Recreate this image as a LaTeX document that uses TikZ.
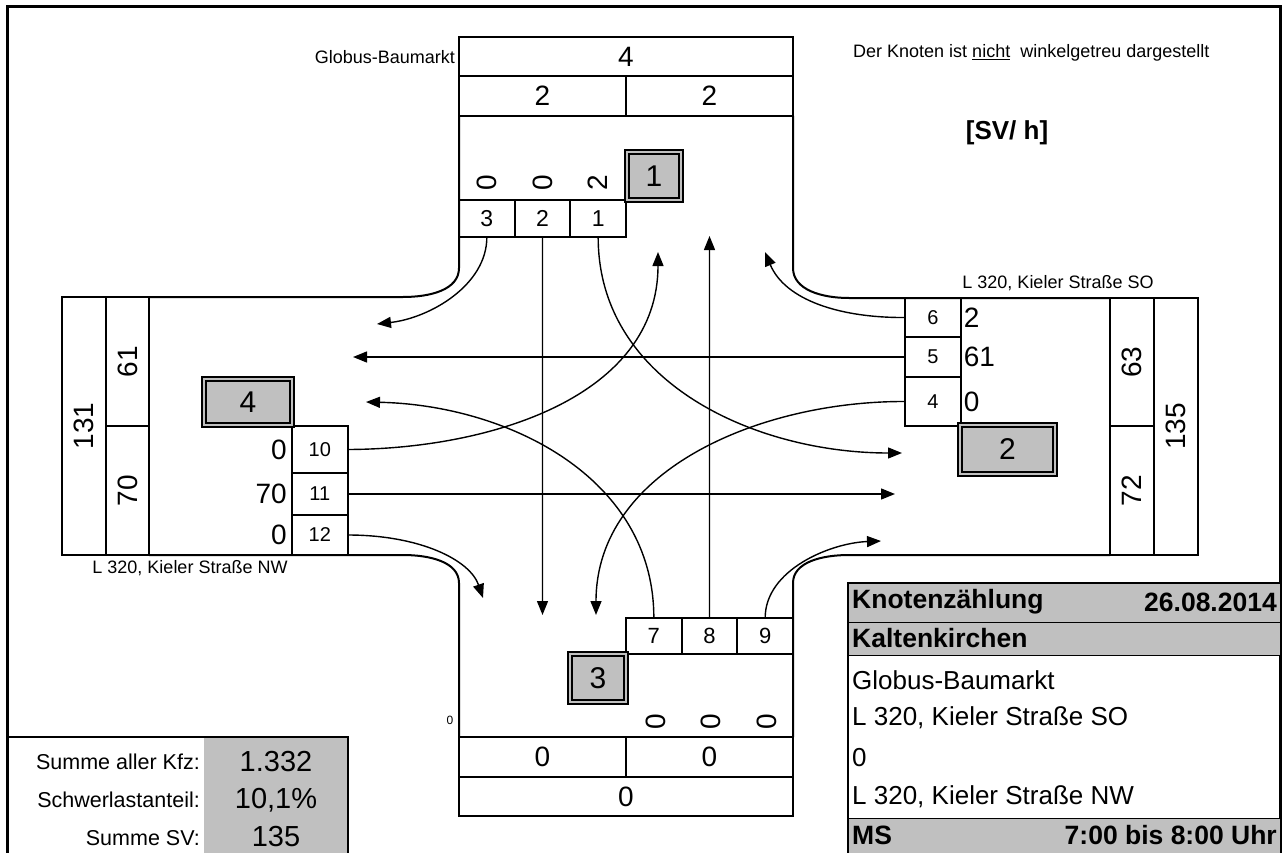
\documentclass[tikz,border=0pt]{standalone}
\usepackage{fontspec}
\setmainfont{Liberation Sans}
\usetikzlibrary{arrows.meta, positioning}
\definecolor{siggrey}{RGB}{192,192,192}
\newcommand{\pxfont}[1]{\fontsize{#1}{#1}\selectfont}
\tikzstyle{cellbox} = [draw, line width=2pt, inner sep=0pt, outer sep=0pt, font=\pxfont{28}]
\tikzstyle{lanecell} = [cellbox, minimum width=55.67pt, font=\pxfont{20}]
\tikzstyle{sig} = [draw, double=siggrey, double distance=2.5pt, line width=1.3pt,
  fill=siggrey, inner sep=0pt, font=\pxfont{30}]
\tikzstyle{flow} = [line width=1.4pt, -{Triangle[length=14pt, width=11pt]}]
\tikzstyle{kerb} = [line width=2pt]
\tikzstyle{lbl} = [inner sep=0pt, font=\pxfont{18}]
\tikzstyle{val} = [inner sep=0pt, font=\pxfont{28}]
\tikzstyle{tabtxt} = [inner sep=0pt, font=\pxfont{26}]

\begin{document}
\begin{tikzpicture}[x=1pt, y=-1pt]
    \useasboundingbox (0,0) rectangle (1284,853);
    \draw[line width=3pt] (7,853) -- (7,7) -- (1280,7) -- (1280,853);

    % road edges
    \draw[kerb] (459,116) -- (459,268) .. controls (459,290) and (430,297) .. (403,297) -- (149,297);
    \draw[kerb] (793,116) -- (793,268) .. controls (793,290) and (822,298) .. (849,298) -- (1110,298);
    \draw[kerb] (149,555) -- (403,555) .. controls (430,555) and (459,562) .. (459,583) -- (459,737);
    \draw[kerb] (1110,555) -- (849,555) .. controls (822,555) and (793,562) .. (793,583) -- (793,737);

    % north arm
    \node[lbl, anchor=east] (nname) at (455,57) {Globus-Baumarkt};
    \node[cellbox, minimum width=334pt, minimum height=39pt] (nsum) at (626,56.5) {4};
    \node[cellbox, minimum width=167pt, minimum height=40pt] (nexit) at (542.5,96) {2};
    \node[cellbox, minimum width=167pt, minimum height=40pt] (nentry) at (709.5,96) {2};
    \node[lanecell, minimum height=37pt, anchor=west, font=\pxfont{23}] (c3) at (459,218.5) {3};
    \node[lanecell, minimum height=37pt, right=0pt of c3, font=\pxfont{23}] (c2) {2};
    \node[lanecell, minimum height=37pt, right=0pt of c2, font=\pxfont{23}] (c1) {1};
    \node[val, rotate=90] (v3) at (487,183) {0};
    \node[val, rotate=90] (v2) at (542.5,183) {0};
    \node[val, rotate=90] (v1) at (598,183) {2};
    \node[sig, minimum width=54pt, minimum height=48pt] (s1) at (654,176) {1};

    % west arm
    \node[cellbox, rotate=90, minimum width=258pt, minimum height=44pt] (wsum) at (84,426) {131};
    \node[cellbox, rotate=90, minimum width=129pt, minimum height=43pt] (wexit) at (127.5,361.5) {61};
    \node[cellbox, rotate=90, minimum width=129pt, minimum height=43pt] (wentry) at (127.5,490.5) {70};
    \node[lanecell, minimum height=47pt, anchor=north west] (c10) at (292,426) {10};
    \node[lanecell, minimum height=42pt, below=0pt of c10] (c11) {11};
    \node[lanecell, minimum height=40pt, below=0pt of c11] (c12) {12};
    \node[val, left=5pt of c10] (v10) {0};
    \node[val, left=5pt of c11] (v11) {70};
    \node[val, left=5pt of c12] (v12) {0};
    \node[sig, minimum width=88pt, minimum height=46pt] (s4) at (248,402) {4};
    \node[lbl] (wname) at (190,568) {L 320, Kieler Straße NW};

    % east arm
    \node[lbl] (ename) at (1058,283) {L 320, Kieler Straße SO};
    \node[lanecell, minimum height=39pt, anchor=north west] (c6) at (905,298) {6};
    \node[lanecell, minimum height=40pt, below=0pt of c6] (c5) {5};
    \node[lanecell, minimum height=49pt, below=0pt of c5] (c4) {4};
    \node[val, right=3pt of c6] (v6) {2};
    \node[val, right=3pt of c5] (v5) {61};
    \node[val, right=3pt of c4] (v4) {0};
    \node[cellbox, rotate=90, minimum width=128pt, minimum height=44pt] (eexit) at (1132,362) {63};
    \node[cellbox, rotate=90, minimum width=129pt, minimum height=44pt] (eentry) at (1132,490.5) {72};
    \node[cellbox, rotate=90, minimum width=257pt, minimum height=44pt] (esum) at (1176,426.5) {135};
    \node[sig, minimum width=95pt, minimum height=49pt] (s2) at (1007.5,449.5) {2};

    % south arm
    \node[lanecell, minimum height=36pt, anchor=north west, font=\pxfont{22}] (c7) at (626,618) {7};
    \node[lanecell, minimum height=36pt, right=0pt of c7, font=\pxfont{22}] (c8) {8};
    \node[lanecell, minimum height=36pt, right=0pt of c8, font=\pxfont{22}] (c9) {9};
    \node[val, rotate=90] (v7) at (656,722) {0};
    \node[val, rotate=90] (v8) at (711,722) {0};
    \node[val, rotate=90] (v9) at (767,722) {0};
    \node[sig, minimum width=56pt, minimum height=48pt] (s3) at (598,678) {3};
    \node[inner sep=0pt, font=\pxfont{12}] (sname) at (450,720) {0};
    \node[cellbox, minimum width=167pt, minimum height=40pt] (sentry) at (542.5,757) {0};
    \node[cellbox, minimum width=167pt, minimum height=40pt] (sexit) at (709.5,757) {0};
    \node[cellbox, minimum width=334pt, minimum height=39pt] (ssum) at (626,796.5) {0};

    % streams
    \coordinate (t1) at (902,453);
    \coordinate (t2) at (542.5,615);
    \coordinate (t3) at (377,324);
    \coordinate (t4) at (596,615);
    \coordinate (t5) at (353,357);
    \coordinate (t6) at (765,252);
    \coordinate (t7) at (366,402);
    \coordinate (t8) at (709.5,236);
    \coordinate (t9) at (881,541);
    \coordinate (t10) at (658,252);
    \coordinate (t11) at (895,494);
    \coordinate (t12) at (483,598);
    \draw[flow] (c1.south) .. controls (598,383) and (756,453) .. (t1);
    \draw[flow] (c2.south) -- (t2);
    \draw[flow] (c3.south) .. controls (487,285) and (430,318) .. (t3);
    \draw[flow] (c4.west) .. controls (760,401) and (596,470) .. (t4);
    \draw[flow] (c5.west) -- (t5);
    \draw[flow] (c6.west) .. controls (840,318) and (785,300) .. (t6);
    \draw[flow] (c7.north) .. controls (654,477) and (507,405) .. (t7);
    \draw[flow] (c8.north) -- (t8);
    \draw[flow] (c9.north) .. controls (765,570) and (830,543) .. (t9);
    \draw[flow] (c10.east) .. controls (492,449) and (658,396) .. (t10);
    \draw[flow] (c11.east) -- (t11);
    \draw[flow] (c12.east) .. controls (420,535) and (470,560) .. (t12);

    % notes
    \node[lbl, anchor=west] (note) at (853,53) {Der Knoten ist \underline{nicht}\ \ winkelgetreu dargestellt};
    \node[inner sep=0pt, font=\pxfont{26}\bfseries] (unit) at (1007,133) {[SV/ h]};

    % totals
    \fill[siggrey] (204,737) rectangle (348,853);
    \draw[kerb] (7,737) -- (348,737) -- (348,853);
    \node[lbl, font=\pxfont{21.5}, anchor=east] (lkfz) at (200,762) {Summe aller Kfz:};
    \node[lbl, font=\pxfont{21.5}, anchor=east] (lsv) at (200,800) {Schwerlastanteil:};
    \node[lbl, font=\pxfont{21.5}, anchor=east] (lsum) at (200,838) {Summe SV:};
    \node[val, font=\pxfont{29}] (vkfz) at (276,762) {1.332};
    \node[val, font=\pxfont{29}] (vsv) at (276,800) {10,1\%};
    \node[val, font=\pxfont{29}] (vsum) at (276,837) {135};

    % info table
    \fill[siggrey] (848,583) rectangle (1280,655);
    \fill[siggrey] (848,818) rectangle (1280,853);
    \draw[kerb] (848,853) -- (848,583) -- (1280,583);
    \draw[line width=1pt] (848,622) -- (1280,622) (848,655) -- (1280,655) (848,818) -- (1280,818);
    \node[tabtxt, font=\pxfont{26.5}\bfseries, anchor=west] (ttitle) at (852,602) {Knotenzählung};
    \node[tabtxt, font=\pxfont{26.5}\bfseries, anchor=east] (tdate) at (1277,602) {26.08.2014};
    \node[tabtxt, font=\pxfont{26.5}\bfseries, anchor=west] (ttown) at (852,638) {Kaltenkirchen};
    \node[tabtxt, anchor=west] (tn) at (852,680) {Globus-Baumarkt};
    \node[tabtxt, anchor=west] (te) at (852,718) {L 320, Kieler Straße SO};
    \node[tabtxt, anchor=west] (ts) at (852,758) {0};
    \node[tabtxt, anchor=west] (tw) at (852,797) {L 320, Kieler Straße NW};
    \node[tabtxt, font=\pxfont{26.5}\bfseries, anchor=west] (tms) at (852,835) {MS};
    \node[tabtxt, font=\pxfont{26.5}\bfseries, anchor=east] (ttime) at (1277,835) {7:00 bis 8:00 Uhr};
  \end{tikzpicture}
\end{document}
